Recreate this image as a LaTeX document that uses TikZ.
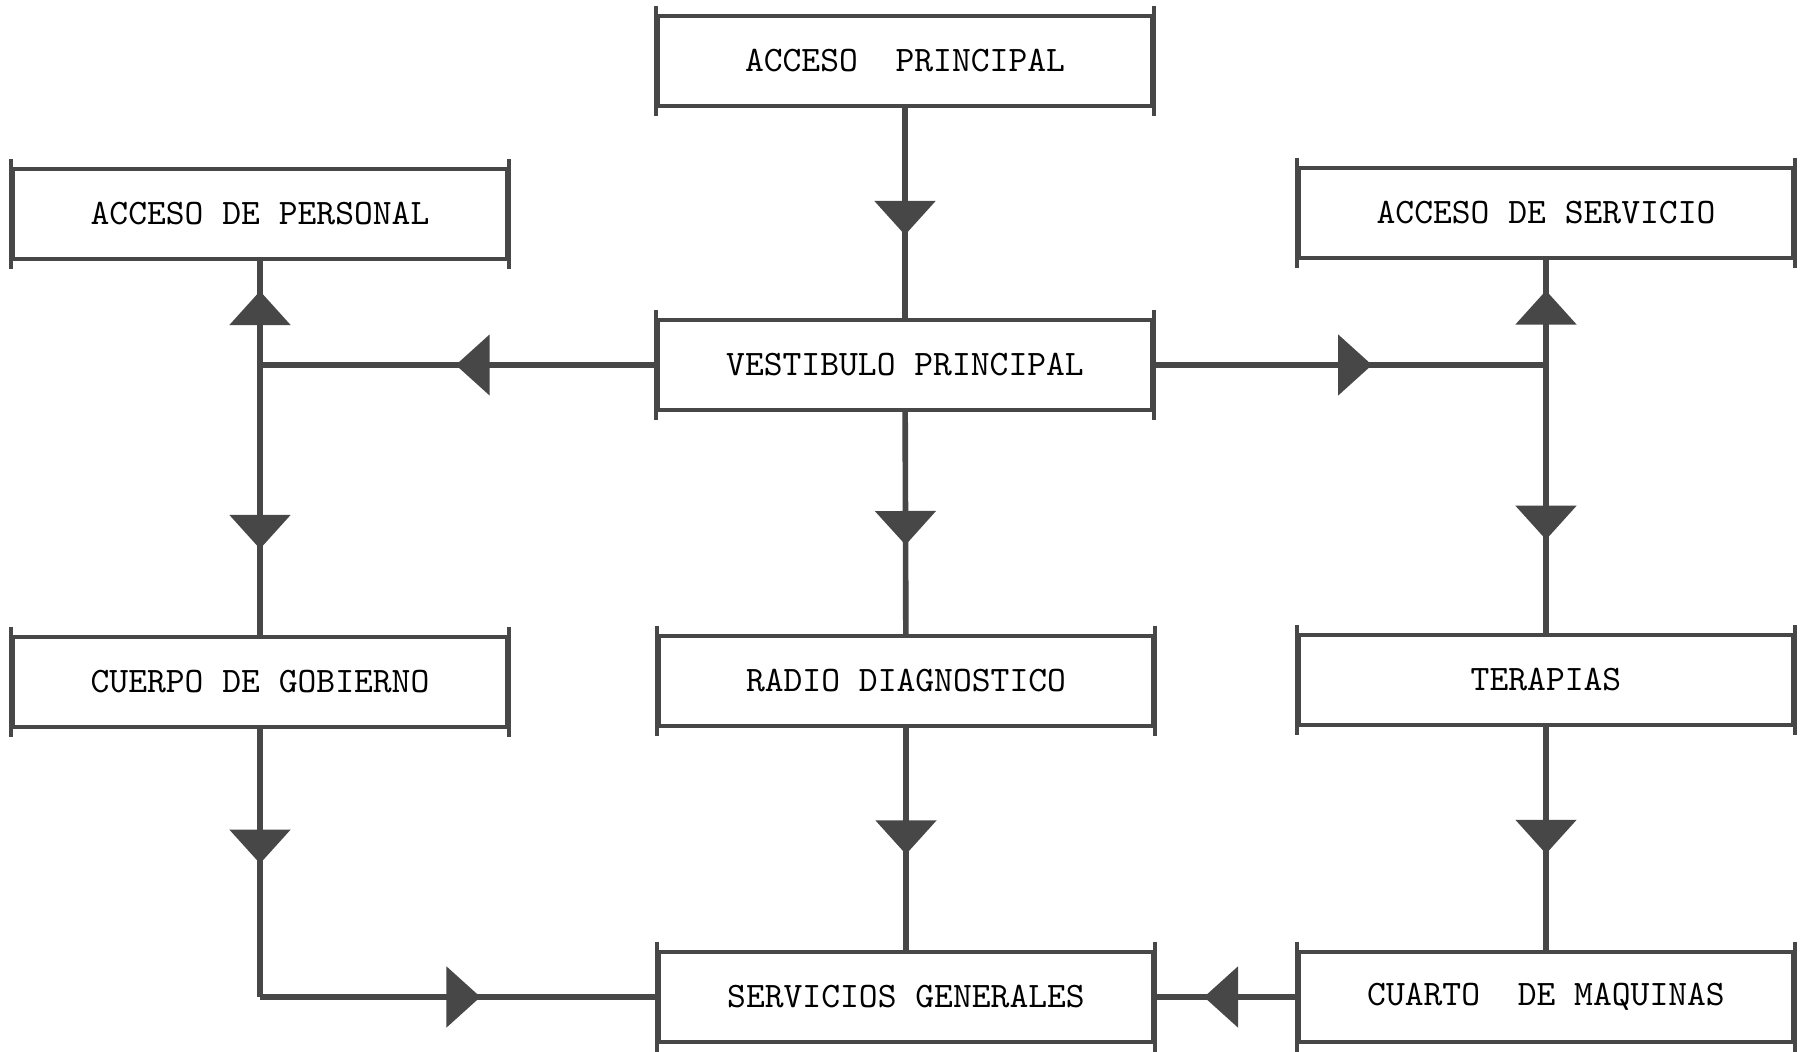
\documentclass[tikz,border=0pt]{standalone}
\usepackage{tikz}
\usetikzlibrary{arrows.meta,decorations.markings}

\begin{document}
\begin{tikzpicture}[
  caja/.style={draw=black!72, line width=1.2pt, minimum width=4.94cm, minimum height=0.9cm,
    font=\ttfamily\fontsize{10.2}{12}\selectfont},
  borde/.style={draw=black!72, line width=1.2pt},
  linea/.style={draw=black!72, line width=1.6pt},
  flecha/.style={linea, decoration={markings,
    mark=at position #1 with {\arrow[black!72,xshift=2.2mm]{Triangle[length=3.4mm,width=6mm]}}},
    postaction={decorate}},
  flecha/.default=0.5]
\useasboundingbox (0,0) rectangle (18.06,-10.52);
% cajas
\node[caja] (acceso) at (9.05,-0.61) {ACCESO\ \ PRINCIPAL};
\node[caja] (personal) at (2.60,-2.14) {ACCESO DE PERSONAL};
\node[caja] (servicio) at (15.46,-2.13) {ACCESO DE SERVICIO};
\node[caja] (vestibulo) at (9.05,-3.65) {VESTIBULO PRINCIPAL};
\node[caja] (gobierno) at (2.60,-6.82) {CUERPO DE GOBIERNO};
\node[caja] (radio) at (9.06,-6.81) {RADIO DIAGNOSTICO};
\node[caja] (terapias) at (15.46,-6.80) {TERAPIAS};
\node[caja] (generales) at (9.06,-9.97) {SERVICIOS GENERALES};
\node[caja] (maquinas) at (15.46,-9.97) {CUARTO\ \ DE MAQUINAS};
% lados que sobresalen
\foreach \n in {acceso,personal,servicio,vestibulo,gobierno,radio,terapias,generales,maquinas} {
  \draw[borde] ([yshift=0.8mm]\n.north west) -- ([yshift=-0.8mm]\n.south west);
  \draw[borde] ([yshift=0.8mm]\n.north east) -- ([yshift=-0.8mm]\n.south east);
}
% uniones
\coordinate (izq) at (personal.south |- vestibulo.west);
\coordinate (der) at (servicio.south |- vestibulo.east);
\coordinate (esq) at (gobierno.south |- generales.west);
% conexiones
\draw[flecha] (acceso) -- (vestibulo);
\draw[flecha=0.45] (vestibulo.west) -- (izq);
\draw[flecha] (izq) -- (personal);
\draw[flecha=0.6] (izq) -- (gobierno);
\draw[flecha] (vestibulo.east) -- (der);
\draw[flecha] (der) -- (servicio);
\draw[flecha=0.57] (der) -- (terapias);
\draw[flecha] (vestibulo) -- (radio);
\draw[flecha=0.42] (gobierno) -- (esq);
\draw[flecha] (esq) -- (generales.west);
\draw[flecha=0.47] (radio) -- (generales);
\draw[flecha=0.47] (terapias) -- (maquinas);
\draw[flecha] (maquinas) -- (generales);
\end{tikzpicture}
\end{document}
